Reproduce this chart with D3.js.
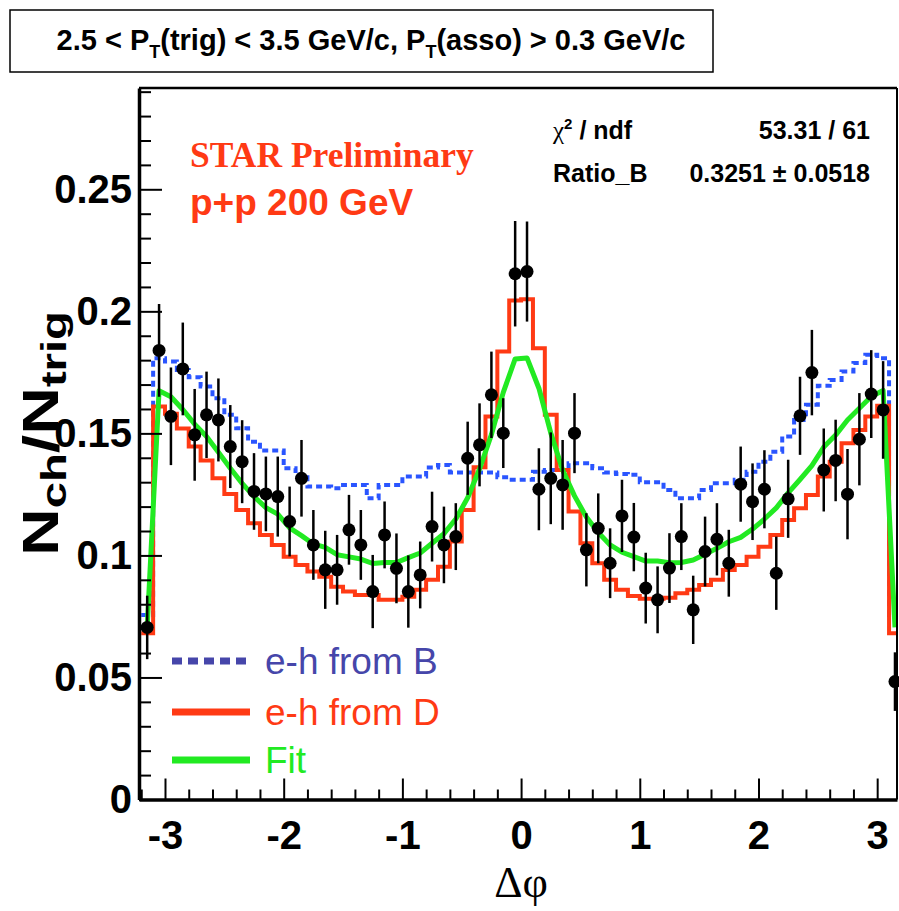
<!DOCTYPE html>
<html>
<head>
<meta charset="utf-8">
<script src="https://cdn.jsdelivr.net/npm/d3@7/dist/d3.min.js"></script>
<style>
body { margin: 0; background: #fff; }
svg { display: block; }
</style>
</head>
<body>
<svg id="chart" width="899" height="911" font-family="'Liberation Sans', Arial, sans-serif"></svg>
<script>
// binning of the histograms: 64 bins of 0.1 rad from -3.2 to 3.2
var binLow = -3.2;
var binWidth = 0.1;

// data points (N_ch/N_trig) and their errors, one per bin
var pointValues = [
	0.0705, 0.1840, 0.1570, 0.1764, 0.1494, 0.1576, 0.1555, 0.1446,
	0.1384, 0.1262, 0.1252, 0.1241, 0.1139, 0.1316, 0.1043, 0.0941,
	0.0941, 0.1105, 0.1043, 0.0852, 0.1084, 0.0947, 0.0852, 0.0920,
	0.1118, 0.1043, 0.1077, 0.1398, 0.1453, 0.1658, 0.1501, 0.2154,
	0.2163, 0.1271, 0.1316, 0.1289, 0.1501, 0.1023, 0.1111, 0.0968,
	0.1162, 0.1075, 0.0866, 0.0818, 0.0948, 0.1077, 0.0777, 0.1016,
	0.1066, 0.0968, 0.1292, 0.1220, 0.1271, 0.0927, 0.1232, 0.1572,
	0.1749, 0.1350, 0.1389, 0.1251, 0.1476, 0.1661, 0.1596, 0.0483
];
var pointErrors = [
	0.0130, 0.0190, 0.0200, 0.0190, 0.0188, 0.0177, 0.0170, 0.0170,
	0.0170, 0.0157, 0.0153, 0.0164, 0.0143, 0.0157, 0.0143, 0.0160,
	0.0143, 0.0143, 0.0143, 0.0150, 0.0137, 0.0143, 0.0148, 0.0137,
	0.0143, 0.0157, 0.0137, 0.0150, 0.0170, 0.0177, 0.0143, 0.0216,
	0.0205, 0.0168, 0.0188, 0.0184, 0.0164, 0.0150, 0.0143, 0.0143,
	0.0148, 0.0140, 0.0145, 0.0137, 0.0143, 0.0137, 0.0140, 0.0143,
	0.0148, 0.0137, 0.0154, 0.0157, 0.0160, 0.0150, 0.0160, 0.0160,
	0.0175, 0.0170, 0.0167, 0.0185, 0.0189, 0.0180, 0.0200, 0.0120
];
// e-h from B template (blue dashed histogram)
var histB = [
	0.0756, 0.1808, 0.1794, 0.1760, 0.1730, 0.1692, 0.1644, 0.1576,
	0.1521, 0.1466, 0.1430, 0.1430, 0.1357, 0.1330, 0.1282, 0.1282,
	0.1275, 0.1289, 0.1289, 0.1234, 0.1289, 0.1289, 0.1323, 0.1323,
	0.1360, 0.1370, 0.1340, 0.1340, 0.1340, 0.1340, 0.1320, 0.1310,
	0.1310, 0.1343, 0.1350, 0.1350, 0.1378, 0.1378, 0.1357, 0.1340,
	0.1334, 0.1330, 0.1300, 0.1300, 0.1268, 0.1234, 0.1234, 0.1268,
	0.1296, 0.1296, 0.1310, 0.1343, 0.1384, 0.1425, 0.1487, 0.1555,
	0.1617, 0.1695, 0.1719, 0.1753, 0.1788, 0.1822, 0.1808, 0.0756
];
// e-h from D template (red histogram)
var histD = [
	0.0681, 0.1610, 0.1580, 0.1520, 0.1446, 0.1389, 0.1316, 0.1252,
	0.1186, 0.1132, 0.1084, 0.1043, 0.0995, 0.0961, 0.0934, 0.0913,
	0.0872, 0.0852, 0.0838, 0.0838, 0.0818, 0.0818, 0.0831, 0.0859,
	0.0900, 0.0954, 0.1057, 0.1186, 0.1361, 0.1569, 0.1835, 0.2044,
	0.2050, 0.1849, 0.1576, 0.1350, 0.1180, 0.1050, 0.0968, 0.0900,
	0.0859, 0.0834, 0.0822, 0.0822, 0.0827, 0.0845, 0.0859, 0.0879,
	0.0900, 0.0940, 0.0961, 0.0995, 0.1036, 0.1084, 0.1145, 0.1193,
	0.1248, 0.1323, 0.1384, 0.1460, 0.1514, 0.1569, 0.1613, 0.0681
];
// fit curve (green), read at the bin centres
var fitValues = [
	0.0705, 0.1675, 0.1650, 0.1598, 0.1538, 0.1487, 0.1423, 0.1357,
	0.1295, 0.1241, 0.1196, 0.1169, 0.1113, 0.1081, 0.1047, 0.1033,
	0.1003, 0.0994, 0.0985, 0.0967, 0.0971, 0.0971, 0.0991, 0.1010,
	0.1050, 0.1089, 0.1149, 0.1236, 0.1354, 0.1495, 0.1668, 0.1805,
	0.1809, 0.1685, 0.1502, 0.1350, 0.1244, 0.1157, 0.1094, 0.1043,
	0.1013, 0.0995, 0.0977, 0.0977, 0.0970, 0.0971, 0.0981, 0.1005,
	0.1029, 0.1056, 0.1074, 0.1108, 0.1149, 0.1195, 0.1256, 0.1311,
	0.1368, 0.1444, 0.1493, 0.1555, 0.1603, 0.1651, 0.1676, 0.0705
];

var xMajorTicks = [-3, -2, -1, 0, 1, 2, 3];
var xTickLabels = ['-3', '-2', '-1', '0', '1', '2', '3'];
var yMajorTicks = [0, 0.05, 0.1, 0.15, 0.2, 0.25];
var yTickLabels = ['0', '0.05', '0.1', '0.15', '0.2', '0.25'];
var legendLabels = ['e-h from B', 'e-h from D', 'Fit'];
var statNames = ['ndf', 'Ratio_B'];
var statValues = ['53.31 / 61', '0.3251 \u00b1 0.0518'];

// colours
var blue = '#2a55ff';
var legendBlue = '#4646aa';
var red = '#ff3a14';
var green = '#22ea22';
var serif = "'Liberation Serif', 'Times New Roman', serif";

// frame (window.top is reserved, hence the prefix)
var padLeft = 139, padRight = 897, padTop = 88, padBottom = 799.5;

var svg = d3.select('#chart');

var x = d3.scaleLinear().domain([-3.219, 3.167]).range([padLeft, padRight]);
var y = d3.scaleLinear().domain([0, 0.2915]).range([padBottom, padTop]);

var centers = pointValues.map(function(v, i) { return binLow + binWidth * (i + 0.5); });

svg.append('clipPath').attr('id', 'plotClip')
	.append('rect')
	.attr('x', padLeft).attr('y', padTop)
	.attr('width', padRight - padLeft).attr('height', padBottom - padTop);

// title box
svg.append('rect')
	.attr('x', 10).attr('y', 10).attr('width', 703).attr('height', 62)
	.attr('fill', 'none').attr('stroke', '#000').attr('stroke-width', 1.5);
var title = svg.append('text')
	.attr('x', 371).attr('y', 50)
	.attr('text-anchor', 'middle')
	.attr('font-size', 29).attr('font-weight', 'bold');
title.append('tspan').text('2.5 < P');
title.append('tspan').attr('font-size', 18).attr('dy', 8).text('T');
title.append('tspan').attr('dy', -8).text('(trig) < 3.5 GeV/c, P');
title.append('tspan').attr('font-size', 18).attr('dy', 8).text('T');
title.append('tspan').attr('dy', -8).text('(asso) > 0.3 GeV/c');

// histograms
function stepPoints(values) {
	var pts = values.map(function(v, i) { return [binLow + binWidth * i, v]; });
	pts.push([binLow + binWidth * values.length, values[values.length - 1]]);
	return pts;
}
var stepLine = d3.line()
	.x(function(d) { return x(d[0]); })
	.y(function(d) { return y(d[1]); })
	.curve(d3.curveStepAfter);

var plot = svg.append('g').attr('clip-path', 'url(#plotClip)');

plot.append('path')
	.attr('d', stepLine(stepPoints(histB)))
	.attr('fill', 'none').attr('stroke', blue)
	.attr('stroke-width', 4).attr('stroke-dasharray', '6,4');

plot.append('path')
	.attr('d', stepLine(stepPoints(histD)))
	.attr('fill', 'none').attr('stroke', red)
	.attr('stroke-width', 4);

var fitLine = d3.line()
	.x(function(d, i) { return x(centers[i]); })
	.y(function(d) { return y(d); });
plot.append('path')
	.attr('d', fitLine(fitValues))
	.attr('fill', 'none').attr('stroke', green)
	.attr('stroke-width', 5).attr('stroke-linejoin', 'round');

// data points
var pts = svg.append('g');
pts.selectAll('line.err')
	.data(pointValues)
	.enter().append('line')
	.attr('class', 'err')
	.attr('x1', function(d, i) { return x(centers[i]); })
	.attr('x2', function(d, i) { return x(centers[i]); })
	.attr('y1', function(d, i) { return y(d + pointErrors[i]); })
	.attr('y2', function(d, i) { return y(d - pointErrors[i]); })
	.attr('stroke', '#000').attr('stroke-width', 2.5);
pts.selectAll('circle')
	.data(pointValues)
	.enter().append('circle')
	.attr('cx', function(d, i) { return x(centers[i]); })
	.attr('cy', function(d) { return y(d); })
	.attr('r', 6.5)
	.attr('fill', '#000');

// axes
var yMinor = d3.range(0, 0.2905, 0.01).filter(function(v) {
	return Math.abs(Math.round(v * 20) - v * 20) > 1e-6;
});
var xMinor = d3.range(-3.2, 3.19, 0.2).filter(function(v) {
	return Math.abs(Math.round(v) - v) > 1e-6 && v > -3.21;
});

var yAxis = svg.append('g')
	.attr('transform', 'translate(' + padLeft + ',0)')
	.call(d3.axisLeft(y)
		.tickValues(yMajorTicks)
		.tickSizeInner(-23).tickSizeOuter(0).tickPadding(7)
		.tickFormat(function(d, i) { return yTickLabels[i]; }));
svg.append('g')
	.attr('transform', 'translate(' + padLeft + ',0)')
	.call(d3.axisLeft(y).tickValues(yMinor).tickSizeInner(-12).tickSizeOuter(0).tickFormat(''))
	.select('.domain').remove();

var xAxis = svg.append('g')
	.attr('transform', 'translate(0,' + padBottom + ')')
	.call(d3.axisBottom(x)
		.tickValues(xMajorTicks)
		.tickSizeInner(-21).tickSizeOuter(0).tickPadding(21)
		.tickFormat(function(d, i) { return xTickLabels[i]; }));
svg.append('g')
	.attr('transform', 'translate(0,' + padBottom + ')')
	.call(d3.axisBottom(x).tickValues(xMinor).tickSizeInner(-10).tickSizeOuter(0).tickFormat(''))
	.select('.domain').remove();

svg.selectAll('.tick line').attr('stroke', '#000').attr('stroke-width', 2);
yAxis.select('.domain').attr('stroke-width', 3.5);
xAxis.select('.domain').attr('stroke-width', 3.5);
svg.selectAll('.tick text')
	.attr('font-size', 40).attr('font-weight', 'bold').attr('fill', '#000');
svg.selectAll('g').filter(function() { return this.getAttribute('font-family') === 'sans-serif'; })
	.attr('font-family', null).attr('font-size', null);

// top and right frame lines
svg.append('line').attr('x1', padLeft).attr('x2', padRight).attr('y1', padTop).attr('y2', padTop)
	.attr('stroke', '#000').attr('stroke-width', 2.5);
svg.append('line').attr('x1', padRight).attr('x2', padRight).attr('y1', padTop).attr('y2', padBottom)
	.attr('stroke', '#000').attr('stroke-width', 2);

// axis titles
svg.append('text')
	.attr('x', 521).attr('y', 897)
	.attr('text-anchor', 'middle')
	.attr('font-family', serif)
	.attr('font-size', 44)
	.text('\u0394\u03c6');

var yTitle = svg.append('text')
	.attr('text-anchor', 'start')
	.attr('font-size', 49).attr('font-weight', 'bold');
yTitle.append('tspan').text('N');
yTitle.append('tspan').attr('font-size', 35).attr('dy', 8).text('ch');
yTitle.append('tspan').attr('dy', -8).text('/');
yTitle.append('tspan').text('N');
yTitle.append('tspan').attr('font-size', 35).attr('dy', 8).text('trig');
// stretch along the text direction to the reference length
var yTitleLen = yTitle.node().getComputedTextLength();
yTitle.attr('transform', 'translate(58,556) rotate(-90) scale(' + (245 / yTitleLen) + ',1)');

// labels in the pad
svg.append('text')
	.attr('x', 190).attr('y', 167)
	.attr('font-family', serif)
	.attr('font-size', 35.5).attr('font-weight', 'bold').attr('fill', red)
	.text('STAR Preliminary');
svg.append('text')
	.attr('x', 190).attr('y', 215)
	.attr('font-size', 37).attr('font-weight', 'bold').attr('fill', red)
	.text('p+p 200 GeV');

// fit statistics
var chi = svg.append('text')
	.attr('x', 553).attr('y', 139)
	.attr('font-size', 25).attr('font-weight', 'bold');
chi.append('tspan').attr('font-family', serif).attr('font-weight', 'normal').text('\u03c7');
chi.append('tspan').attr('font-size', 15).attr('dy', -10).text('2');
chi.append('tspan').attr('dy', 10).text(' / ' + statNames[0]);
svg.append('text')
	.attr('x', 553).attr('y', 182)
	.attr('font-size', 25).attr('font-weight', 'bold')
	.text(statNames[1]);
svg.selectAll('text.stat')
	.data(statValues)
	.enter().append('text')
	.attr('class', 'stat')
	.attr('x', 870)
	.attr('y', function(d, i) { return i === 0 ? 139 : 182; })
	.attr('text-anchor', 'end')
	.attr('font-size', 25).attr('font-weight', 'bold')
	.text(function(d) { return d; });

// legend
var legendY = [661, 712, 760];
var legendColors = [legendBlue, red, green];
var legend = svg.append('g');
legend.selectAll('line')
	.data(legendLabels)
	.enter().append('line')
	.attr('x1', 172).attr('x2', 250)
	.attr('y1', function(d, i) { return legendY[i]; })
	.attr('y2', function(d, i) { return legendY[i]; })
	.attr('stroke', function(d, i) { return legendColors[i]; })
	.attr('stroke-width', 7)
	.attr('stroke-dasharray', function(d, i) { return i === 0 ? '10,6' : null; });
legend.selectAll('text')
	.data(legendLabels)
	.enter().append('text')
	.attr('x', 265)
	.attr('y', function(d, i) { return legendY[i] + 13; })
	.attr('font-size', 37)
	.attr('fill', function(d, i) { return legendColors[i]; })
	.text(function(d) { return d; });
</script>
</body>
</html>
